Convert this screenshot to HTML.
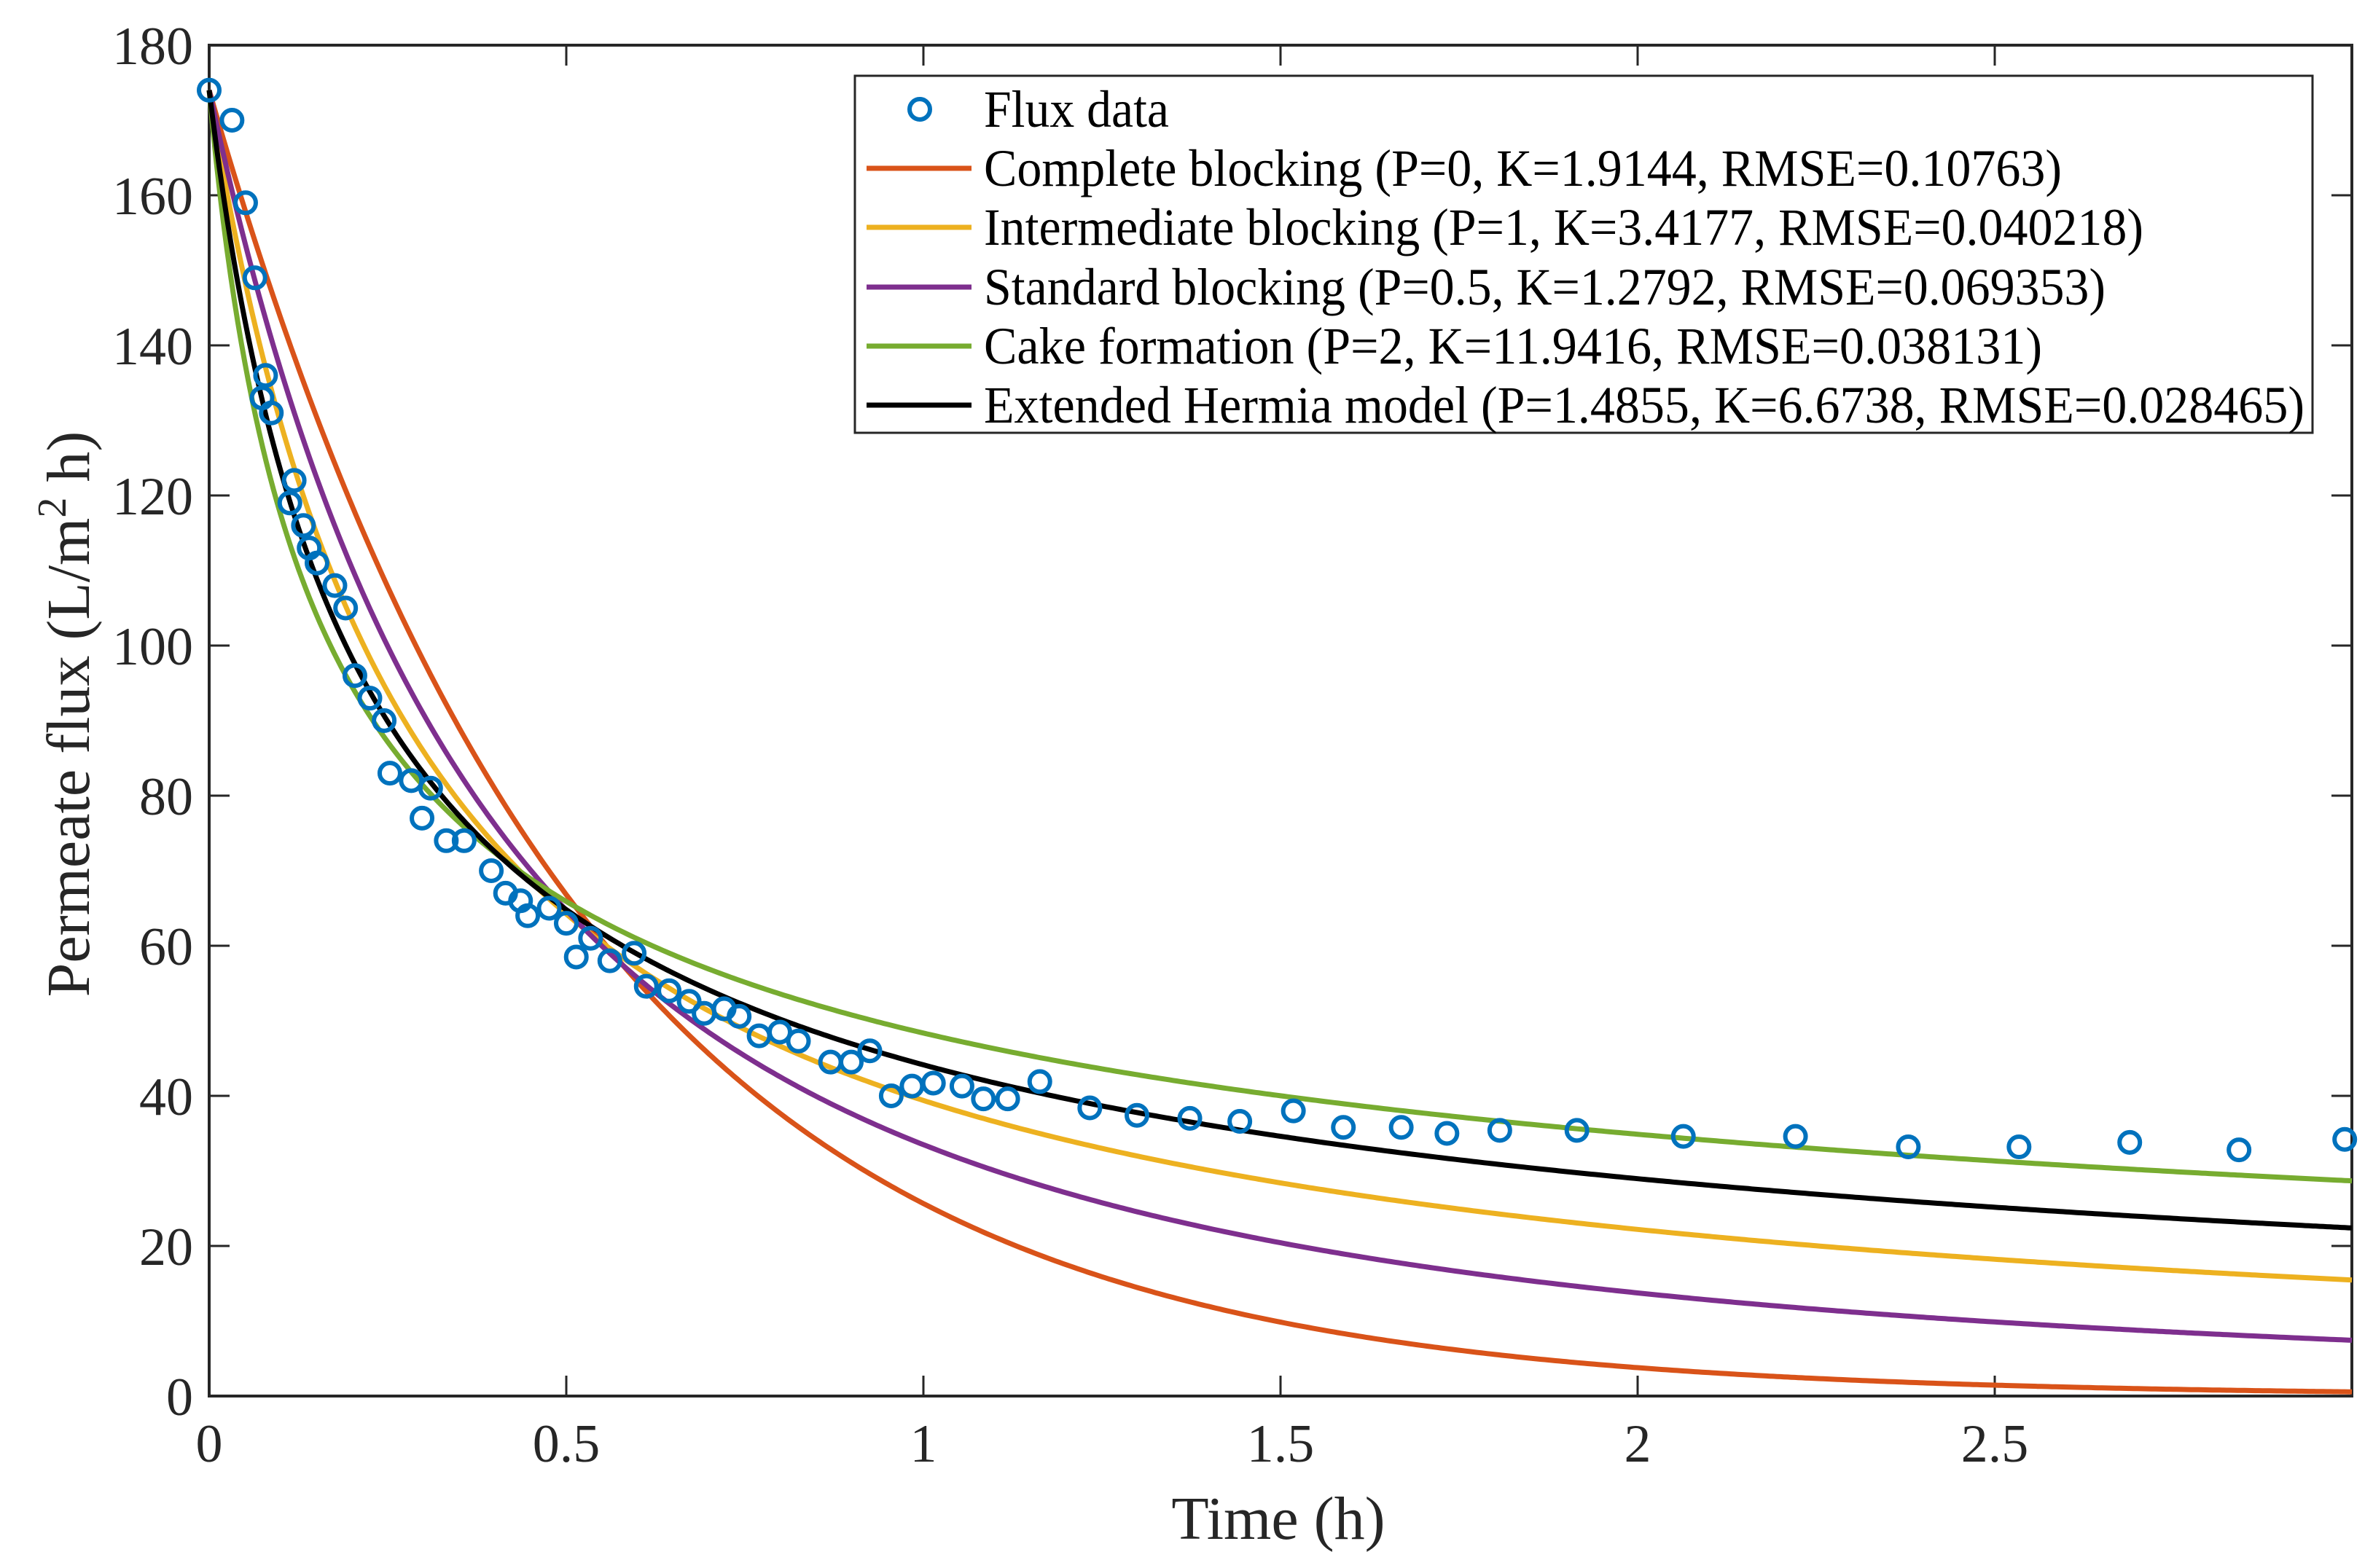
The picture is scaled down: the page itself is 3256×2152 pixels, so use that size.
<!DOCTYPE html>
<html><head><meta charset="utf-8"><style>
html,body{margin:0;padding:0;background:#fff;}
svg{display:block;font-family:"Liberation Serif",serif;}
</style></head><body>
<svg id="chart" width="3256" height="2152" viewBox="0 0 3256 2152"></svg>
<script>
const tData=[0,0.032,0.051,0.064,0.074,0.079,0.087,0.113,0.119,0.132,0.140,0.151,0.176,0.191,0.204,0.225,0.245,0.253,0.283,0.298,0.310,0.332,0.357,0.395,0.415,0.436,0.446,0.476,0.500,0.514,0.534,0.561,0.595,0.612,0.644,0.672,0.693,0.721,0.742,0.770,0.799,0.825,0.870,0.899,0.925,0.955,0.984,1.014,1.054,1.084,1.118,1.163,1.233,1.299,1.373,1.443,1.518,1.588,1.669,1.733,1.807,1.915,2.064,2.221,2.379,2.534,2.689,2.842,2.99];
const fluxData=[174,170,159,149,133,136,131,119,122,116,113,111,108,105,96,93,90,83,82,77,81,74,74,70,67,66,64,65,63,58.5,61,58,59,54.6,54,52.6,51,51.6,50.6,48,48.5,47.3,44.5,44.5,46,40,41.3,41.7,41.3,39.6,39.6,41.9,38.4,37.4,37,36.6,38,35.8,35.8,35,35.4,35.4,34.6,34.6,33.2,33.2,33.8,32.8,34.2];
const modelNames=["Complete blocking (P=0, K=1.9144, RMSE=0.10763)","Intermediate blocking (P=1, K=3.4177, RMSE=0.040218)","Standard blocking (P=0.5, K=1.2792, RMSE=0.069353)","Cake formation (P=2, K=11.9416, RMSE=0.038131)","Extended Hermia model (P=1.4855, K=6.6738, RMSE=0.028465)"];
const modelP=[0,1,0.5,2,1.4855];
const modelK=[1.9144,3.4177,1.2792,11.9416,6.6738];
const modelColors=["#D95319","#EDB120","#7E2F8E","#77AC30","#000000"];
const J0=174;
const xTicks=[0,0.5,1,1.5,2,2.5];
const xTickLabels=["0","0.5","1","1.5","2","2.5"];
const yTicks=[0,20,40,60,80,100,120,140,160,180];

const NS="http://www.w3.org/2000/svg";
const svg=document.getElementById('chart');
const L=287,R=3227,T=62,B=1916;
const xs=v=>L+(v-0)/3*(R-L);
const ys=v=>B-(v-0)/180*(B-T);
function mk(tag,attrs,parent){const e=document.createElementNS(NS,tag);for(const k in attrs)e.setAttribute(k,attrs[k]);(parent||svg).appendChild(e);return e;}

const frame=mk('rect',{x:L,y:T,width:R-L,height:B-T,fill:'none',stroke:'#262626','stroke-width':4});



xTicks.forEach((v,i)=>{
  const x=xs(v);
  const tk=mk('path',{d:`M${x},${B}V${B-28}M${x},${T}V${T+28}`,stroke:'#262626','stroke-width':3});
  
  
  const t=mk('text',{x:x,y:B+90,'text-anchor':'middle','font-size':74,fill:'#262626'});
  t.textContent=xTickLabels[i];
  
  
});
yTicks.forEach(v=>{
  const y=ys(v);
  const tk=mk('path',{d:`M${L},${y}H${L+28}M${R},${y}H${R-28}`,stroke:'#262626','stroke-width':3});
  
  
  const t=mk('text',{x:L-22,y:y+26,'text-anchor':'end','font-size':74,fill:'#262626'});
  t.textContent=String(v);
  
  
});

const xt=mk('text',{x:1754,y:2112,'text-anchor':'middle','font-size':84,fill:'#262626'});
xt.textContent='Time (h)';


const yt=mk('text',{transform:`translate(122,980) rotate(-90)`,'text-anchor':'middle','font-size':84,fill:'#262626'});
yt.innerHTML='Permeate flux (L/m<tspan dy="-32" font-size="56">2</tspan><tspan dy="32"> h)</tspan>';



function model(P,K,t){return P===0?J0*Math.exp(-K*t):J0*Math.pow(1+K*t,-1/P);}
modelP.forEach((P,i)=>{
  let d='';
  for(let k=0;k<=600;k++){const t=3*k/600;d+=(k?'L':'M')+xs(t).toFixed(1)+','+ys(model(P,modelK[i],t)).toFixed(1);}
  const p=mk('path',{d:d,fill:'none',stroke:modelColors[i],'stroke-width':7,'stroke-linejoin':'round'});
  
  
});

tData.forEach((t,i)=>{
  const c=mk('circle',{cx:xs(t),cy:ys(fluxData[i]),r:14,fill:'none',stroke:'#0072BD','stroke-width':6});
  
  
});

const lg=mk('g',{});


mk('rect',{x:1173,y:104,width:2000,height:490,fill:'#fff',stroke:'#262626','stroke-width':3},lg);
const rowY=[150,231,312,394,475,556];
const textW=[254,1479,1591,1539,1452,1812];
const c0=mk('circle',{cx:1262,cy:rowY[0],r:14,fill:'none',stroke:'#0072BD','stroke-width':6},lg);


const t0=mk('text',{x:1350,y:rowY[0]+24,'font-size':72,fill:'#000',textLength:textW[0],lengthAdjust:'spacingAndGlyphs'},lg);
t0.textContent='Flux data';


modelNames.forEach((n,i)=>{
  const y=rowY[i+1];
  const ln=mk('line',{x1:1189,x2:1333,y1:y,y2:y,stroke:modelColors[i],'stroke-width':7},lg);
  
  
  const t=mk('text',{x:1350,y:y+24,'font-size':72,fill:'#000',textLength:textW[i+1],lengthAdjust:'spacingAndGlyphs'},lg);
  t.textContent=n;
  
  
});
</script>
</body></html>
